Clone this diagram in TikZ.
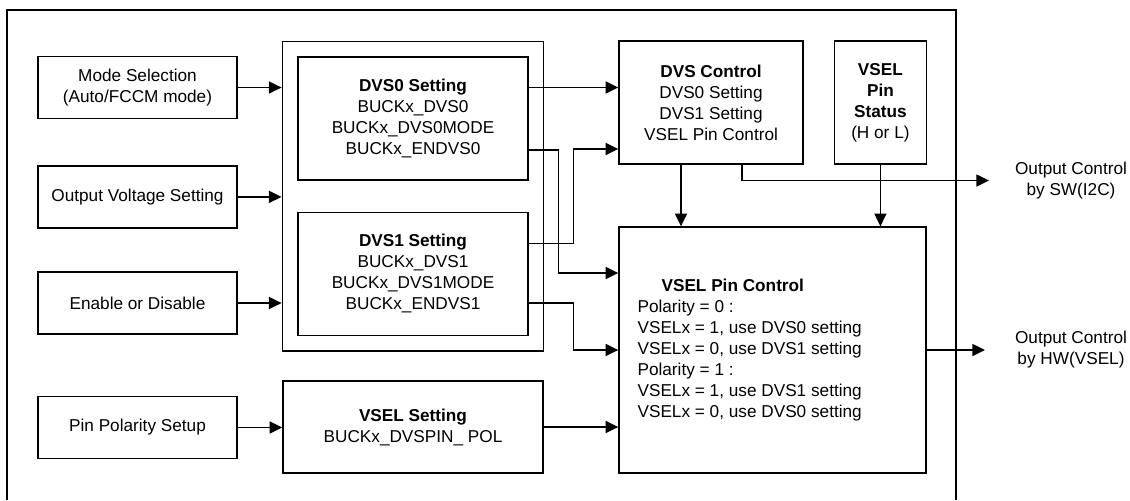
\documentclass[tikz,border=0pt]{standalone}
\usepackage{fontspec}
\setmainfont{Liberation Sans}
\usetikzlibrary{positioning, arrows.meta, calc, fit}

\begin{document}
\begin{tikzpicture}[
		x=0.75pt, y=-0.75pt,
		font=\fontsize{12.9}{15.75}\selectfont,
		% --- STYLES ---
		inbox/.style={
			rectangle, draw, line width=1.05pt, align=center,
			minimum width=149.25pt, minimum height=46.5pt
		},
		setbox/.style={
			rectangle, draw, line width=1.05pt, align=center,
			minimum width=172.5pt, minimum height=92.25pt
		},
		groupbox/.style={
			rectangle, draw, line width=1.05pt, inner sep=11.25pt
		},
		ctlbox/.style={
			rectangle, draw, line width=1.05pt, align=center,
			minimum height=92.25pt
		},
		line/.style={
			draw, -{Triangle[length=9.5pt, width=9pt]}, line width=1.05pt
		},
		outlabel/.style={
			align=center
		}
		]
		
		\useasboundingbox (0,0) rectangle (1130,500);
		
		% --- 0. Outer frame (bottom edge lies outside the picture) ---
		\draw [line width=1.05pt] (7,500) -- (7,10) -- (956,10) -- (956,500);
		
		% --- 1. Inputs on the left ---
		\node [inbox] (mode) at (137.5,87.5) {Mode Selection\\(Auto/FCCM mode)};
		\node [inbox, below=34.5pt of mode] (outv) {Output Voltage Setting};
		\node [inbox] (enable) at (137.5,303) {Enable or Disable};
		\node [inbox] (pinpol) at (137.5,427.5) {Pin Polarity Setup};
		
		% --- 2. DVS settings ---
		\node [setbox] (dvs0) at (413,118.5) {\textbf{DVS0 Setting}\\BUCKx\_DVS0\\BUCKx\_DVS0MODE\\BUCKx\_ENDVS0};
		\node [setbox, below=23.25pt of dvs0] (dvs1) {\textbf{DVS1 Setting}\\BUCKx\_DVS1\\BUCKx\_DVS1MODE\\BUCKx\_ENDVS1};
		\node [groupbox, fit=(dvs0)(dvs1)] (dvsgroup) {};
		
		\node [setbox, minimum width=195pt, minimum height=69pt] (vselset) at (413,427) {\textbf{VSEL Setting}\\BUCKx\_DVSPIN\_ POL};
		
		% --- 3. Control blocks ---
		\node [ctlbox, minimum width=138pt] (dvsctl) at (711,102.5) {\textbf{DVS Control}\\DVS0 Setting\\DVS1 Setting\\VSEL Pin Control};
		\node [ctlbox, minimum width=69pt, right=22.5pt of dvsctl] (pinstat) {\textbf{VSEL}\\\textbf{Pin}\\\textbf{Status}\\(H or L)};
		
		\node [ctlbox, minimum width=230.25pt, minimum height=184.5pt] (pinctl) at (772.5,350) {};
		\node [anchor=west, align=left, inner sep=0pt] (pinctltxt) at ($(pinctl.west)+(19,0)$) {%
			\hspace*{18pt}\textbf{VSEL Pin Control}\\
			Polarity = 0 :\\
			VSELx = 1, use DVS0 setting\\
			VSELx = 0, use DVS1 setting\\
			Polarity = 1 :\\
			VSELx = 1, use DVS1 setting\\
			VSELx = 0, use DVS0 setting};
		
		% --- 4. Outputs ---
		\node [outlabel] (swout) at (1071,181) {Output Control\\by SW(I2C)};
		\node [outlabel] (hwout) at (1071,350) {Output Control\\by HW(VSEL)};
		\coordinate (swend) at (989,180.5);
		\coordinate (hwend) at (985,350);
		
		% --- 5. Connections ---
		\draw [line] (mode.east) -- (mode.east -| dvsgroup.west);
		\draw [line] (outv.east) -- (outv.east -| dvsgroup.west);
		\draw [line] (enable.east) -- (enable.east -| dvsgroup.west);
		\draw [line] (pinpol.east) -- (pinpol.east -| vselset.west);
		
		% DVS0 -> control / pin control
		\draw [line] (dvs0.east |- mode) -- (dvsctl.west |- mode);
		\draw [line] ($(dvs0.east)+(0,31.5)$) -- ++(30,0) |- ($(pinctl.west)+(0,-77)$);
		
		% DVS1 -> control / pin control
		\draw [line] ($(dvs1.east)+(0,-30.5)$) -- ++(45,0) |- ($(dvsctl.west)+(0,46.5)$);
		\draw [line] (dvs1.east |- enable) -- ++(45,0) |- (pinctl.west);
		
		\draw [line] (vselset.east) -- (vselset.east -| pinctl.west);
		
		% Down into pin control
		\coordinate (ctldown) at ($(dvsctl.south)+(-30,0)$);
		\draw [line] (ctldown) -- (ctldown |- pinctl.north);
		\draw [line] (pinstat.south) -- (pinstat.south |- pinctl.north);
		
		% Out of the frame
		\draw [line] ($(dvsctl.south)+(31,0)$) |- (swend);
		\draw [line] (pinctl.east) -- (hwend);
		
	\end{tikzpicture}
\end{document}
